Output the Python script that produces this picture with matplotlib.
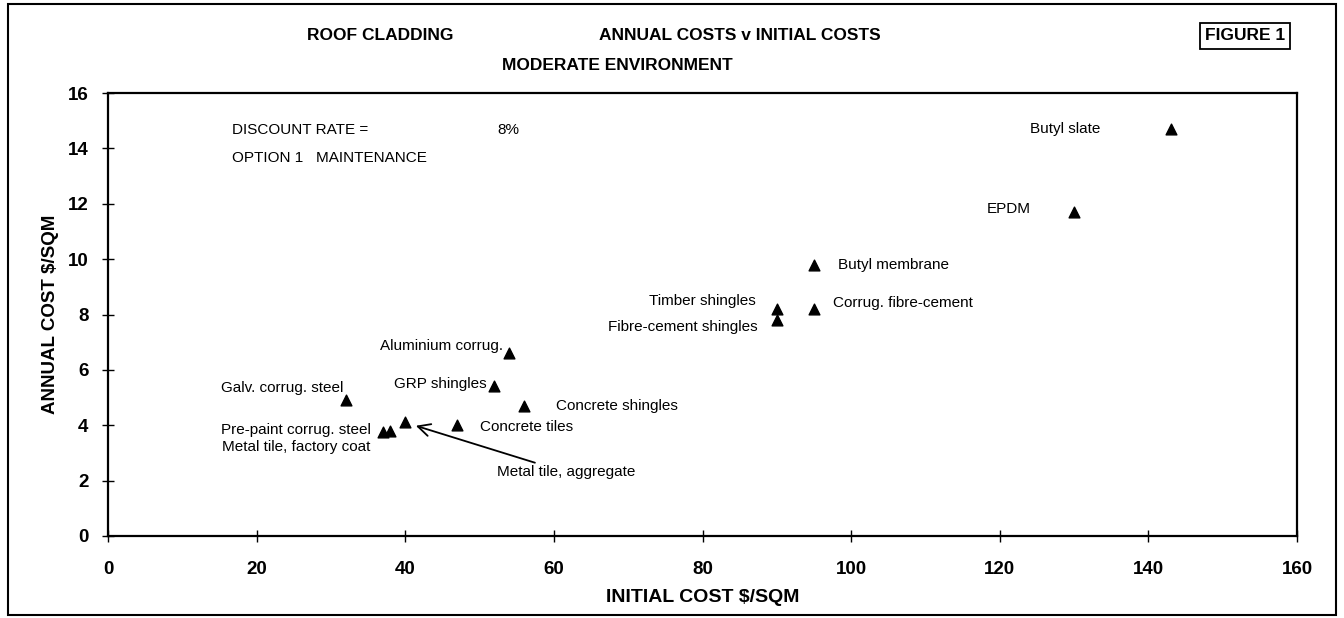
import matplotlib.pyplot as plt
from matplotlib.patches import Rectangle

plt.rcParams['font.family'] = ['Liberation Sans', 'DejaVu Sans']

# data
materials = ['Butyl slate', 'EPDM', 'Butyl membrane', 'Corrug. fibre-cement',
             'Timber shingles', 'Fibre-cement shingles', 'Aluminium corrug.',
             'GRP shingles', 'Concrete shingles', 'Galv. corrug. steel',
             'Concrete tiles', 'Metal tile, aggregate', 'Pre-paint corrug. steel',
             'Metal tile, factory coat']
initial_cost = [143, 130, 95, 95, 90, 90, 54, 52, 56, 32, 47, 40, 37, 38]
annual_cost = [14.7, 11.7, 9.8, 8.2, 8.2, 7.8, 6.6, 5.4, 4.7, 4.9, 4.0, 4.1, 3.75, 3.8]

# label offsets (pixels) and alignment
offsets = {
    'Butyl slate': (-70, 0, 'right'),
    'EPDM': (-43, 3, 'right'),
    'Butyl membrane': (24, 0, 'left'),
    'Corrug. fibre-cement': (19, 6, 'left'),
    'Timber shingles': (-21, 8, 'right'),
    'Fibre-cement shingles': (-19, -7, 'right'),
    'Aluminium corrug.': (-6, 7, 'right'),
    'GRP shingles': (-8, 2, 'right'),
    'Concrete shingles': (32, 0, 'left'),
    'Concrete tiles': (23, -2, 'left'),
    'Galv. corrug. steel': (-2, 12, 'right'),
    'Pre-paint corrug. steel': (-12, 2, 'right'),
    'Metal tile, factory coat': (-20, -16, 'right'),
}

W, H = 1344, 618
fig = plt.figure(figsize=(W / 100, H / 100), dpi=100)
ax = fig.add_axes([108 / W, 1 - 536 / H, (1297 - 108) / W, (536 - 93) / H])

ax.scatter(initial_cost, annual_cost, marker='^', s=60, color='black', zorder=3)

for name, x, y in zip(materials, initial_cost, annual_cost):
    if name == 'Metal tile, aggregate':
        ax.annotate(name, xy=(x, y), xytext=(92, -50), textcoords='offset pixels',
                    ha='left', va='center', fontsize=11,
                    arrowprops=dict(arrowstyle='->', color='black', lw=1.3,
                                    shrinkA=0, shrinkB=8, mutation_scale=22))
        continue
    dx, dy, ha = offsets[name]
    ax.annotate(name, xy=(x, y), xytext=(dx, dy), textcoords='offset pixels',
                ha=ha, va='center', fontsize=11)

ax.set_xlim(0, 160)
ax.set_ylim(0, 16)
ax.set_xticks(range(0, 161, 20))
ax.set_yticks(range(0, 17, 2))
ax.tick_params(direction='inout', length=8, width=1, labelsize=13.5)
ax.tick_params(axis='x', pad=14)
ax.tick_params(axis='y', pad=10)
for lab in ax.get_xticklabels() + ax.get_yticklabels():
    lab.set_fontweight('bold')
for sp in ax.spines.values():
    sp.set_linewidth(1.6)

ax.set_xlabel('INITIAL COST $/SQM', fontsize=14, fontweight='bold', labelpad=8)
ax.set_ylabel('ANNUAL COST $/SQM', fontsize=13.5, fontweight='bold', labelpad=6)

# titles and notes
fig.text(380 / W, 1 - 36 / H, 'ROOF CLADDING', ha='center', va='center',
         fontsize=12.5, fontweight='bold')
fig.text(740 / W, 1 - 36 / H, 'ANNUAL COSTS v INITIAL COSTS', ha='center',
         va='center', fontsize=12.5, fontweight='bold')
fig.text(617 / W, 1 - 66 / H, 'MODERATE ENVIRONMENT', ha='center', va='center',
         fontsize=12.5, fontweight='bold')
fig.text(1245 / W, 1 - 36 / H, 'FIGURE 1', ha='center', va='center',
         fontsize=12.5, fontweight='bold',
         bbox=dict(boxstyle='square,pad=0.3', fc='white', ec='black', lw=1.3))

fig.text(232 / W, 1 - 130 / H, 'DISCOUNT RATE =', ha='left', va='center', fontsize=11)
fig.text(497 / W, 1 - 130 / H, '8%', ha='left', va='center', fontsize=11)
fig.text(232 / W, 1 - 158 / H, 'OPTION 1   MAINTENANCE', ha='left', va='center',
         fontsize=11)

# page frame
fig.patches.append(Rectangle((8 / W, 3 / H), (1336 - 8) / W, (614 - 3) / H,
                             transform=fig.transFigure, fill=False,
                             ec='black', lw=1.5))

plt.savefig('out.png', dpi=100)
